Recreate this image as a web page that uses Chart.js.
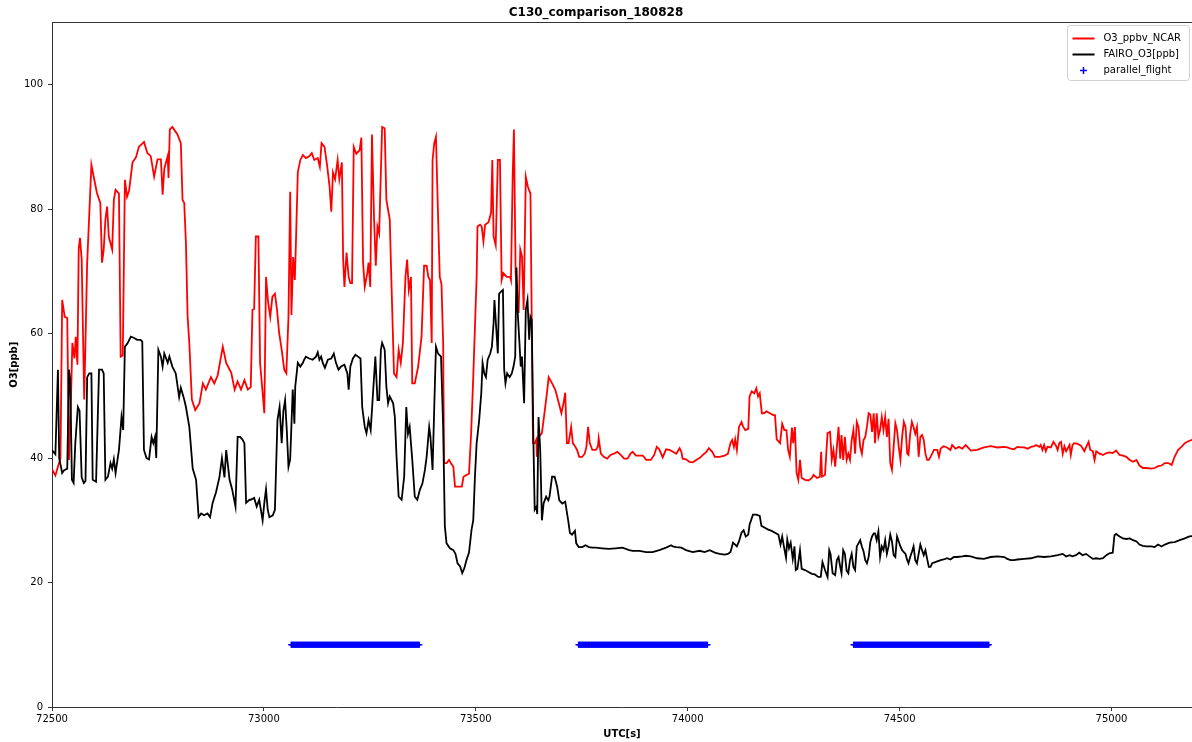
<!DOCTYPE html>
<html>
<head>
<meta charset="utf-8">
<title>C130_comparison_180828</title>
<script src="https://cdn.jsdelivr.net/npm/chart.js@4.4.1/dist/chart.umd.min.js"></script>
<style>
    html, body { margin: 0; padding: 0; background: #fff; }
    #wrap { width: 1192px; height: 742px; }
</style>
</head>
<body>
<div id="wrap"><canvas id="o3_chart" width="1192" height="742"></canvas></div>
<script>
// O3_ppbv_NCAR: [UTC s, ppb]
var ncarPoints = [
    [72500, 38.2], [72508, 37.2], [72520, 40], [72524, 65.4], [72530, 62.7], [72536, 62.5], [72540, 39.7], [72545, 50],
    [72548, 58.5], [72553, 56], [72556, 59.5], [72560, 55], [72563, 73.5], [72566, 75.4], [72570, 72], [72576, 49.4],
    [72583, 71.4], [72593, 87.1], [72599, 85], [72606, 82.6], [72614, 81], [72618, 71.4], [72622, 73.5], [72626, 78.3],
    [72630, 80.4], [72634, 75.6], [72642, 73.5], [72646, 81.5], [72650, 83.1], [72658, 82.5], [72662, 56.3], [72667, 56.5],
    [72672, 84.7], [72677, 82], [72682, 83], [72690, 87.5], [72698, 88.3], [72705, 90], [72717, 90.8], [72725, 89],
    [72733, 88.5], [72741, 85.2], [72749, 88], [72757, 88], [72761, 82.3], [72765, 86.5], [72773, 88.5], [72775, 85],
    [72778, 92.8], [72784, 93.2], [72796, 92], [72804, 90.6], [72808, 81.5], [72812, 81], [72816, 74.6], [72820, 62.7],
    [72824, 58.5], [72830, 49.4], [72838, 47.7], [72848, 48.8], [72856, 52], [72863, 51], [72875, 53], [72883, 52],
    [72891, 53.3], [72903, 57.9], [72911, 55.3], [72923, 53.7], [72931, 51], [72938, 52.3], [72946, 51], [72954, 52.5],
    [72962, 51], [72969, 51.4], [72973, 63.8], [72977, 64], [72981, 75.6], [72987, 75.6], [72991, 55.3], [72997, 50.5],
    [73001, 47.2], [73005, 69.1], [73010, 65], [73015, 62.7], [73020, 65.9], [73026, 66.4], [73031, 63.8], [73036, 60.1],
    [73042, 57.4], [73048, 54.2], [73053, 53.6], [73058, 62.7], [73062, 82.8], [73065, 63], [73069, 72.3], [73073, 68.6],
    [73076, 75.6], [73080, 85.9], [73086, 87.9], [73092, 88.7], [73099, 88.2], [73107, 88.5], [73113, 89], [73119, 87.9],
    [73127, 88.2], [73132, 86.8], [73136, 90.6], [73143, 90], [73149, 87.1], [73155, 83.6], [73159, 79.6], [73163, 85.9],
    [73168, 84.8], [73174, 87.9], [73178, 84.8], [73184, 87.5], [73187, 71.9], [73190, 67.5], [73195, 73], [73200, 69.1],
    [73204, 68.1], [73208, 68.1], [73212, 90], [73218, 88.9], [73226, 89.5], [73230, 91.5], [73234, 71.4], [73238, 67.5],
    [73244, 69.7], [73247, 71.4], [73251, 67.5], [73255, 92], [73260, 78.3], [73264, 70.9], [73268, 77.2], [73272, 76.1],
    [73276, 85.9], [73279, 93.2], [73285, 93], [73289, 81.5], [73293, 79.9], [73297, 78.3], [73301, 68.1], [73307, 53.6],
    [73313, 53], [73318, 57.4], [73323, 55.3], [73328, 58.5], [73334, 69.1], [73338, 71.9], [73342, 67], [73347, 69.1],
    [73350, 52], [73356, 52], [73364, 54.7], [73372, 59.5], [73378, 70.9], [73384, 70.9], [73388, 69.1], [73392, 68.6],
    [73396, 58.5], [73398, 87.9], [73402, 90.6], [73406, 91.6], [73411, 78.8], [73415, 69.1], [73419, 68], [73423, 58.5],
    [73425, 39.2], [73431, 39.2], [73437, 39.7], [73441, 39.2], [73447, 38.6], [73451, 35.4], [73459, 35.4], [73467, 35.4],
    [73471, 37], [73476, 37.2], [73484, 37.5], [73489, 44], [73494, 53], [73498, 61.1], [73502, 69.1], [73504, 77.2],
    [73510, 77.5], [73514, 77.2], [73518, 74.8], [73522, 77.5], [73530, 77.9], [73536, 79.4], [73539, 87.9], [73542, 75.6],
    [73547, 74.2], [73552, 87.9], [73557, 87.9], [73561, 68.6], [73565, 69.7], [73573, 69.1], [73581, 69.1], [73583, 68.6],
    [73587, 85.2], [73590, 92.8], [73594, 69.7], [73601, 63.3], [73605, 73.5], [73609, 72.4], [73613, 63.8], [73618, 85.2],
    [73623, 83.6], [73626, 83], [73629, 82.5], [73632, 62.2], [73635, 42.4], [73639, 42.4], [73643, 43], [73644, 40.2],
    [73648, 43.4], [73656, 44], [73662, 47.2], [73668, 50.5], [73672, 53], [73680, 52], [73688, 50.9], [73696, 48.8],
    [73702, 47.2], [73707, 48.8], [73711, 50.5], [73715, 42.4], [73719, 42.4], [73725, 45], [73729, 42.4], [73735, 41.8],
    [73739, 41.3], [73744, 40.2], [73751, 40.2], [73757, 40.7], [73761, 41.8], [73765, 45], [73769, 42.4], [73775, 41.3],
    [73783, 41.3], [73788, 41.8], [73790, 43.2], [73795, 40.7], [73802, 40.2], [73810, 39.9], [73818, 40.5], [73826, 40.7],
    [73834, 41], [73842, 40.5], [73850, 39.9], [73858, 39.9], [73865, 40.7], [73870, 41], [73878, 40.4], [73886, 40.4],
    [73894, 40.4], [73902, 39.7], [73913, 39.7], [73921, 40.5], [73927, 41.8], [73933, 41.4], [73941, 40.1], [73949, 41.4],
    [73957, 41.3], [73965, 41], [73973, 40.7], [73981, 41.6], [73985, 41], [73988, 39.9], [73996, 39.8], [74004, 39.4],
    [74012, 39.3], [74020, 39.7], [74028, 40], [74036, 40.5], [74044, 41], [74050, 41.6], [74058, 41], [74064, 40.2],
    [74075, 40.2], [74087, 40.4], [74095, 40.7], [74101, 42.4], [74105, 42.9], [74109, 41.8], [74112, 43], [74116, 41.3],
    [74121, 45], [74127, 45.8], [74131, 45], [74136, 44.5], [74143, 44.7], [74146, 49.9], [74151, 50.7], [74157, 50.4],
    [74162, 51.2], [74166, 49.9], [74170, 50.4], [74175, 47.2], [74180, 47.2], [74186, 47.5], [74194, 47.2], [74202, 46.9],
    [74206, 46.9], [74210, 43], [74218, 42.4], [74223, 45.5], [74228, 44.5], [74233, 44.5], [74237, 41.3], [74241, 40.2],
    [74246, 44.9], [74249, 42.4], [74253, 45], [74257, 37.6], [74261, 36.5], [74265, 39.7], [74269, 36.8], [74277, 36.5],
    [74285, 36.4], [74293, 36.8], [74297, 37.3], [74305, 36.8], [74312, 37], [74315, 41], [74317, 37], [74324, 37.3],
    [74330, 44], [74336, 44.2], [74340, 39.7], [74344, 41.3], [74348, 38.6], [74352, 41.8], [74356, 45], [74360, 39.9],
    [74363, 43.7], [74367, 39.7], [74371, 43.4], [74375, 39.7], [74379, 40.7], [74383, 39.7], [74387, 42.9], [74391, 44.5],
    [74395, 40.7], [74399, 45.8], [74403, 45], [74407, 41.8], [74411, 40.7], [74415, 42.9], [74419, 43.4], [74423, 45],
    [74427, 47.2], [74431, 47], [74435, 44.2], [74439, 47.2], [74442, 42.4], [74446, 47.2], [74450, 43.4], [74454, 44.5],
    [74458, 46.6], [74462, 44.5], [74466, 46.6], [74470, 43.4], [74474, 46.3], [74478, 39.2], [74482, 38.1], [74486, 41.8],
    [74490, 45.6], [74494, 44.5], [74498, 41.8], [74502, 39.7], [74506, 43.4], [74510, 45.8], [74514, 45], [74518, 40.7],
    [74521, 40.5], [74525, 43.9], [74529, 45.8], [74533, 45], [74537, 43.9], [74541, 45], [74545, 40.2], [74549, 43.4],
    [74553, 43.7], [74557, 42.9], [74561, 40.7], [74565, 39.7], [74569, 39.7], [74573, 40.2], [74577, 40.7], [74581, 41.3],
    [74589, 41.3], [74593, 40.2], [74597, 41.5], [74600, 41.7], [74604, 41.9], [74612, 41.7], [74620, 41.3], [74624, 42.1],
    [74632, 41.5], [74640, 41.8], [74648, 41.5], [74656, 42.1], [74660, 41.8], [74668, 41.2], [74683, 41.3], [74699, 41.7],
    [74715, 41.9], [74731, 41.7], [74747, 41.8], [74754, 41.7], [74762, 41.5], [74770, 41.4], [74778, 41.8], [74786, 41.7],
    [74794, 41.7], [74802, 41.5], [74810, 41.8], [74818, 41.9], [74822, 42.1], [74830, 41.8], [74833, 42.1], [74837, 41.3],
    [74841, 42.1], [74845, 41.1], [74849, 41.8], [74857, 41.7], [74863, 42.6], [74869, 42], [74873, 41.3], [74877, 42.4],
    [74881, 42.6], [74885, 40.7], [74889, 41.9], [74893, 41.1], [74901, 42.1], [74904, 40.5], [74908, 42.1], [74912, 42.4],
    [74920, 42.3], [74928, 42], [74936, 41.1], [74940, 41.7], [74946, 42.6], [74950, 41.3], [74956, 41.1], [74960, 39.7],
    [74964, 41.1], [74972, 40.7], [74980, 40.5], [74988, 40.8], [74995, 40.9], [75003, 40.8], [75011, 41.2], [75019, 40.5],
    [75027, 40.4], [75035, 40.2], [75043, 39.7], [75051, 39.4], [75059, 39.7], [75066, 38.8], [75074, 38.4], [75082, 38.4],
    [75094, 38.3], [75102, 38.4], [75110, 38.7], [75118, 38.8], [75126, 39.2], [75134, 39.2], [75142, 38.9], [75149, 40.2],
    [75157, 41.3], [75165, 41.8], [75173, 42.4], [75181, 42.7], [75189, 42.9], [75197, 43.2], [75201, 43.1]
];

// FAIRO_O3[ppb]: [UTC s, ppb]
var fairoPoints = [
    [72500, 41.3], [72508, 40.6], [72514, 54.2], [72517, 40], [72524, 37.6], [72528, 38], [72536, 38.3], [72540, 54.2],
    [72543, 52.6], [72547, 36.5], [72551, 36], [72555, 42.4], [72561, 48.2], [72565, 47.6], [72570, 36.9], [72575, 36],
    [72579, 36.3], [72583, 53], [72588, 53.6], [72593, 53.6], [72596, 36.5], [72604, 36.2], [72611, 54.2], [72618, 54.2],
    [72622, 53.6], [72626, 36.5], [72632, 37], [72638, 39.2], [72642, 38.3], [72646, 39.8], [72650, 37.6], [72658, 41.3],
    [72664, 46.6], [72668, 44.5], [72672, 57.9], [72678, 58.4], [72686, 59.5], [72694, 59.3], [72701, 59], [72709, 59],
    [72713, 58.7], [72717, 41.3], [72723, 40], [72729, 39.8], [72735, 43.4], [72739, 42.4], [72743, 43.4], [72746, 40],
    [72751, 57.4], [72757, 56.3], [72761, 54.7], [72765, 56.8], [72773, 55.3], [72777, 56.3], [72784, 54.7], [72792, 53.6],
    [72800, 49.8], [72804, 51.3], [72812, 49.4], [72816, 48.2], [72824, 45], [72832, 38.3], [72840, 36.5], [72846, 30.5],
    [72852, 31.1], [72859, 30.8], [72867, 31.1], [72873, 30.5], [72879, 32.8], [72887, 34.5], [72895, 36.9], [72901, 40],
    [72907, 36.9], [72911, 41.3], [72919, 36.5], [72925, 35], [72933, 32.2], [72938, 43.4], [72944, 43.4], [72950, 42.9],
    [72954, 42.4], [72958, 32.8], [72966, 33.3], [72969, 33.3], [72977, 33.6], [72983, 32.2], [72989, 33.3], [72997, 30],
    [73001, 32.8], [73005, 35], [73009, 31.7], [73013, 30.5], [73021, 30.8], [73026, 31.7], [73028, 36.5], [73032, 46.1],
    [73037, 48.2], [73042, 42.4], [73046, 47.6], [73050, 49.3], [73054, 44.5], [73058, 38.6], [73062, 39.8], [73064, 43.4],
    [73068, 51], [73072, 45.5], [73074, 51.5], [73080, 55.3], [73086, 54.7], [73092, 55.3], [73095, 55.8], [73099, 56.3],
    [73107, 56], [73115, 55.8], [73123, 56.3], [73127, 57], [73131, 55.8], [73135, 56.3], [73139, 55.3], [73144, 54.5],
    [73151, 55.8], [73159, 56], [73165, 56.8], [73170, 55.3], [73176, 54.2], [73182, 54.7], [73190, 55], [73197, 53.6],
    [73200, 51], [73204, 54.7], [73210, 56], [73216, 56.6], [73222, 56.3], [73228, 56], [73232, 48.2], [73238, 45],
    [73242, 44], [73247, 46.1], [73252, 44.5], [73257, 49.9], [73263, 56.3], [73268, 49.3], [73272, 49.3], [73276, 57.4],
    [73279, 58.5], [73285, 57.4], [73289, 51.5], [73293, 48.8], [73297, 49.9], [73305, 48.8], [73309, 46.6], [73313, 40.2],
    [73318, 33.8], [73325, 33.3], [73331, 37], [73336, 48.2], [73340, 43.9], [73344, 45], [73350, 39.8], [73356, 33.8],
    [73362, 33.3], [73368, 34.9], [73374, 35.9], [73380, 38.1], [73384, 40.2], [73390, 45], [73393, 43.4], [73398, 38.1],
    [73402, 48.2], [73406, 57.9], [73411, 56.8], [73418, 56.3], [73423, 45], [73427, 29], [73431, 26.3], [73439, 25.5],
    [73447, 25.2], [73452, 24.6], [73457, 23.1], [73463, 22.6], [73468, 21.5], [73473, 22.3], [73478, 23.6], [73484, 24.8],
    [73490, 28.5], [73494, 30], [73498, 37], [73502, 42.4], [73508, 46.1], [73513, 50.5], [73516, 55.3], [73520, 53.6],
    [73524, 53], [73528, 55.8], [73534, 56.8], [73538, 57.9], [73542, 61.7], [73544, 65.4], [73548, 61.1], [73552, 56.8],
    [73555, 66.4], [73559, 66.7], [73564, 67], [73567, 54.2], [73570, 52], [73574, 53.6], [73580, 53], [73585, 53.6],
    [73589, 54.7], [73593, 56.3], [73596, 70.6], [73599, 63.3], [73603, 58.5], [73606, 54.7], [73609, 56.3], [73614, 48.8],
    [73618, 63.8], [73622, 65.4], [73626, 59], [73629, 62.7], [73632, 62.2], [73636, 42.4], [73639, 31.7], [73643, 32.2],
    [73645, 31], [73648, 46.6], [73652, 41.3], [73656, 30], [73660, 32.7], [73666, 33.8], [73671, 33.2], [73674, 33.8],
    [73680, 37], [73686, 37], [73692, 35.4], [73697, 33.2], [73704, 32.7], [73711, 33], [73718, 30], [73722, 28],
    [73727, 27.7], [73734, 28.3], [73737, 26.3], [73743, 25.7], [73751, 25.7], [73759, 26], [73767, 25.7], [73775, 25.6],
    [73783, 25.6], [73798, 25.5], [73814, 25.4], [73830, 25.5], [73846, 25.6], [73862, 25.2], [73870, 25.1], [73886, 25.1],
    [73902, 24.9], [73917, 24.9], [73933, 25.2], [73949, 25.6], [73961, 26], [73965, 25.8], [73973, 25.7], [73985, 25.6],
    [73996, 25.2], [74012, 24.9], [74028, 25.1], [74040, 24.9], [74052, 25.2], [74064, 24.8], [74075, 24.6], [74087, 24.5],
    [74095, 24.6], [74101, 24.9], [74107, 26.4], [74112, 26.1], [74116, 25.8], [74121, 26.6], [74127, 28], [74132, 28.4],
    [74137, 27.4], [74143, 27.7], [74146, 29.3], [74154, 30.9], [74162, 30.9], [74170, 30.7], [74174, 29.1], [74182, 28.8],
    [74190, 28.5], [74198, 28.3], [74206, 28], [74214, 27.7], [74219, 26.1], [74223, 27.4], [74227, 25.8], [74232, 24],
    [74235, 26.9], [74239, 25.5], [74243, 26.4], [74248, 23.8], [74252, 25.8], [74255, 22], [74259, 22.2], [74265, 25.2],
    [74269, 22.2], [74277, 22], [74285, 21.7], [74293, 21.4], [74300, 21.3], [74308, 20.9], [74314, 20.9], [74318, 23.3],
    [74324, 22], [74330, 20.9], [74334, 25.2], [74337, 24.6], [74342, 21.5], [74348, 21.2], [74352, 23.6], [74356, 24.1],
    [74360, 22.5], [74363, 21.5], [74367, 25.2], [74371, 24.6], [74375, 21.9], [74379, 21.5], [74383, 23.6], [74387, 24.6],
    [74391, 22.5], [74395, 22], [74399, 25.8], [74403, 26.3], [74407, 26.8], [74411, 25.8], [74415, 25], [74419, 23.6],
    [74423, 23.1], [74427, 24.1], [74431, 26.5], [74435, 27.4], [74439, 27.9], [74442, 27.9], [74446, 26.8], [74450, 28.2],
    [74454, 24.1], [74458, 25.8], [74462, 25.2], [74466, 26.8], [74470, 24.6], [74474, 25.8], [74478, 27.7], [74482, 26.6],
    [74486, 24.4], [74490, 24.1], [74494, 27.4], [74498, 26.6], [74502, 25.8], [74506, 25.2], [74510, 24.9], [74514, 24.6],
    [74518, 23.6], [74521, 23.1], [74525, 24.1], [74529, 24.9], [74533, 25.8], [74537, 23.6], [74541, 23.1], [74545, 24.6],
    [74549, 26.1], [74553, 25.2], [74557, 24.4], [74561, 25.2], [74565, 23.8], [74569, 22.5], [74573, 22.5], [74577, 23.1],
    [74589, 23.4], [74597, 23.6], [74604, 23.7], [74612, 23.9], [74620, 23.7], [74628, 24.1], [74636, 24.1], [74648, 24.2],
    [74656, 24.3], [74668, 24.2], [74683, 23.9], [74699, 23.8], [74715, 24.1], [74731, 24.2], [74747, 24.1], [74754, 23.8],
    [74762, 23.6], [74770, 23.6], [74778, 23.7], [74794, 23.8], [74810, 23.9], [74826, 24.2], [74841, 24.1], [74857, 24.2],
    [74873, 24.4], [74885, 24.6], [74893, 24.2], [74901, 24.4], [74908, 24.2], [74916, 24.4], [74924, 24.8], [74932, 24.4],
    [74940, 24.6], [74948, 24.2], [74956, 23.8], [74964, 23.9], [74972, 23.8], [74980, 23.9], [74988, 24.4], [74995, 24.7],
    [75003, 24.8], [75007, 27.6], [75011, 27.8], [75019, 27.4], [75027, 27.1], [75035, 27], [75043, 27.1], [75051, 26.8],
    [75059, 26.6], [75066, 26.1], [75074, 25.9], [75082, 25.8], [75094, 25.8], [75102, 25.7], [75110, 26.1], [75118, 25.8],
    [75126, 26.1], [75137, 26.4], [75149, 26.5], [75161, 26.8], [75173, 27.1], [75184, 27.4], [75193, 27.5], [75201, 27.5]
];

// parallel flight legs (start, end) in UTC[s], flagged at 10 ppb
var parallelStart = [73064, 73742, 74391];
var parallelEnd = [73367, 74047, 74711];
var parallelLevel = 10;

var xTicks = [72500, 73000, 73500, 74000, 74500, 75000];
var yTicks = [0, 20, 40, 60, 80, 100];

var FONT = 'DejaVu Sans';
var COLORS = { ncar: '#ff0000', fairo: '#000000', parallel: '#0000ff' };


function toXY(points) {
    return points.map(function (p) {
        return { x: p[0], y: p[1] };
    });
}

// one flag per second inside each parallel leg
function parallelPoints() {
    var pts = [];
    for (var i = 0; i < parallelStart.length; i++) {
        for (var t = parallelStart[i]; t <= parallelEnd[i]; t++) {
            pts.push({ x: t, y: parallelLevel });
        }
    }
    return pts;
}

function fixedTicks(list) {
    return function (axis) {
        axis.ticks = list.map(function (v) { return { value: v }; });
    };
}

// top spine + matplotlib style legend
var framePlugin = {
    id: 'frame',
    afterDraw: function (chart) {
        var ctx = chart.ctx;
        var a = chart.chartArea;
        ctx.save();
        ctx.strokeStyle = '#333';
        ctx.lineWidth = 1;
        ctx.beginPath();
        ctx.moveTo(a.left, Math.round(a.top) + 0.5);
        ctx.lineTo(a.right, Math.round(a.top) + 0.5);
        ctx.stroke();

        // legend box
        var w = 122, h = 55;
        var x0 = a.right - w - 2.5, y0 = Math.round(a.top) + 3.5, r = 3;
        ctx.beginPath();
        ctx.moveTo(x0 + r, y0);
        ctx.lineTo(x0 + w - r, y0);
        ctx.quadraticCurveTo(x0 + w, y0, x0 + w, y0 + r);
        ctx.lineTo(x0 + w, y0 + h - r);
        ctx.quadraticCurveTo(x0 + w, y0 + h, x0 + w - r, y0 + h);
        ctx.lineTo(x0 + r, y0 + h);
        ctx.quadraticCurveTo(x0, y0 + h, x0, y0 + h - r);
        ctx.lineTo(x0, y0 + r);
        ctx.quadraticCurveTo(x0, y0, x0 + r, y0);
        ctx.fillStyle = 'rgba(255,255,255,0.8)';
        ctx.fill();
        ctx.strokeStyle = '#d0d0d0';
        ctx.stroke();

        ctx.font = '10px "' + FONT + '"';
        ctx.textBaseline = 'middle';
        ctx.textAlign = 'left';
        var keys = ['ncar', 'fairo', 'parallel'];
        chart.data.datasets.forEach(function (ds, i) {
            var yy = Math.round(y0 + 12 + i * 16) + 0.5;
            ctx.strokeStyle = COLORS[keys[i]];
            if (keys[i] === 'parallel') {
                ctx.lineWidth = 1.5;
                ctx.beginPath();
                ctx.moveTo(x0 + 12.5, yy); ctx.lineTo(x0 + 19.5, yy);
                ctx.moveTo(x0 + 16, yy - 3.5); ctx.lineTo(x0 + 16, yy + 3.5);
                ctx.stroke();
            } else {
                ctx.lineWidth = 2;
                ctx.beginPath();
                ctx.moveTo(x0 + 5, yy); ctx.lineTo(x0 + 27, yy);
                ctx.stroke();
            }
            ctx.fillStyle = '#000';
            ctx.fillText(ds.label, x0 + 36, yy);
        });
        ctx.restore();
    }
};


new Chart(document.getElementById('o3_chart').getContext('2d'), {
    type: 'line',
    data: {
        datasets: [{
            label: 'O3_ppbv_NCAR',
            data: toXY(ncarPoints),
            borderColor: COLORS.ncar,
            borderWidth: 1.8,
            pointRadius: 0,
            order: 3
        }, {
            label: 'FAIRO_O3[ppb]',
            data: toXY(fairoPoints),
            borderColor: COLORS.fairo,
            borderWidth: 1.8,
            pointRadius: 0,
            order: 2
        }, {
            label: 'parallel_flight',
            data: parallelPoints(),
            showLine: false,
            borderColor: COLORS.parallel,
            backgroundColor: COLORS.parallel,
            pointBorderColor: COLORS.parallel,
            pointStyle: 'cross',
            pointRadius: 3,
            pointBorderWidth: 1,
            order: 1
        }]
    },
    options: {
        responsive: false,
        animation: false,
        events: [],
        layout: { padding: 0, autoPadding: false },
        scales: {
            x: {
                type: 'linear',
                min: 72500,
                max: 75190,
                afterBuildTicks: fixedTicks(xTicks),
                afterFit: function (axis) { axis.height = 35; },
                ticks: {
                    color: '#000',
                    font: { family: FONT, size: 10 },
                    padding: 2,
                    maxRotation: 0,
                    autoSkip: false,
                    callback: function (v) { return String(v); }
                },
                grid: { drawOnChartArea: false, tickLength: 4, color: '#333' },
                border: { color: '#333', width: 1 },
                title: {
                    display: true,
                    text: 'UTC[s]',
                    color: '#000',
                    font: { family: FONT, size: 10, weight: 'bold' },
                    padding: { top: 0, bottom: 2 }
                }
            },
            y: {
                min: 0,
                max: 110,
                afterBuildTicks: fixedTicks(yTicks),
                afterFit: function (axis) { axis.width = 52; },
                ticks: {
                    color: '#000',
                    font: { family: FONT, size: 10 },
                    padding: 5,
                    callback: function (v) { return String(v); }
                },
                grid: { drawOnChartArea: false, tickLength: 4, color: '#333' },
                border: { color: '#333', width: 1 },
                title: {
                    display: true,
                    text: 'O3[ppb]',
                    color: '#000',
                    font: { family: FONT, size: 10, weight: 'bold' },
                    padding: { top: 8, bottom: 0 }
                }
            }
        },
        plugins: {
            legend: { display: false },
            tooltip: { enabled: false },
            title: {
                display: true,
                text: 'C130_comparison_180828',
                color: '#000',
                font: { family: FONT, size: 12, weight: 'bold' },
                padding: { top: 6, bottom: 2 }
            }
        }
    },
    plugins: [framePlugin]
});
</script>
</body>
</html>
